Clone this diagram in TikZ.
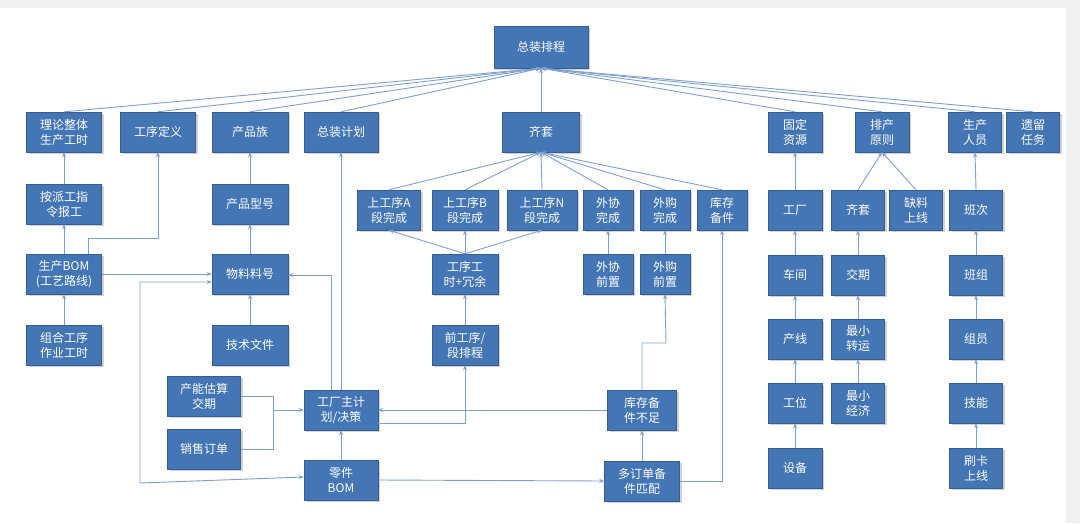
\documentclass[tikz,border=0pt]{standalone}
\usepackage{fontspec}
\setmainfont{Noto Sans CJK SC}
\usetikzlibrary{arrows.meta,shadows}
\definecolor{boxblue}{HTML}{4475B4}
\definecolor{lineblue}{HTML}{7FA0CF}
\tikzset{
  blk/.style={draw=boxblue!80!black,fill=boxblue,text=white,minimum height=40pt,
    inner sep=1pt,align=center,font=\fontsize{12}{15}\selectfont,
    drop shadow={shadow xshift=2pt,shadow yshift=-2pt,opacity=.35}},
  lnk/.style={draw=lineblue,line width=0.9pt,-{Stealth[length=5pt,width=4pt]}}
}
\begin{document}
\begin{tikzpicture}[x=1pt,y=-1pt]
\useasboundingbox (0,0) rectangle (1080,523);
\fill[black!6] (0,0) rectangle (1080,523);
\fill[white] (0,8) rectangle (1066,523);

% top
\node[blk,minimum width=94pt,minimum height=42pt] (zpc) at (541,47) {总装排程};
% row 1
\node[blk,minimum width=75pt] (llzt) at (64,132) {理论整体\\生产工时};
\node[blk,minimum width=75pt] (gxdy) at (158,132) {工序定义};
\node[blk,minimum width=76pt] (cpz) at (250,132) {产品族};
\node[blk,minimum width=74pt] (zzjh) at (341,132) {总装计划};
\node[blk,minimum width=77pt] (qt) at (541,132) {齐套};
\node[blk,minimum width=54pt] (gdzy) at (795,132) {固定\\资源};
\node[blk,minimum width=54pt] (pcyz) at (882,132) {排产\\原则};
\node[blk,minimum width=53pt] (scry) at (975,132) {生产\\人员};
\node[blk,minimum width=53pt] (ylrw) at (1033,132) {遗留\\任务};
% row 2
\node[blk,minimum width=75pt] (apg) at (64,204) {按派工指\\令报工};
\node[blk,minimum width=76pt] (cpxh) at (250,204) {产品型号};
\node[blk,minimum width=63pt] (sgA) at (389,210) {上工序A\\段完成};
\node[blk,minimum width=66pt] (sgB) at (465,210) {上工序B\\段完成};
\node[blk,minimum width=70pt] (sgN) at (542,210) {上工序N\\段完成};
\node[blk,minimum width=50pt] (wxwc) at (608,210) {外协\\完成};
\node[blk,minimum width=50pt] (wgwc) at (665,210) {外购\\完成};
\node[blk,minimum width=50pt] (kcbj) at (722,210) {库存\\备件};
\node[blk,minimum width=54pt] (gc) at (795,210) {工厂};
\node[blk,minimum width=53pt] (qt2) at (858,210) {齐套};
\node[blk,minimum width=53pt] (qlsx) at (916,210) {缺料\\上线};
\node[blk,minimum width=53pt] (bc) at (976,210) {班次};
% row 3
\node[blk,minimum width=75pt] (scbom) at (64,274) {生产BOM\\(工艺路线)};
\node[blk,minimum width=76pt] (wlh) at (250,274) {物料料号};
\node[blk,minimum width=66pt] (gxgs) at (465,274) {工序工\\时+冗余};
\node[blk,minimum width=50pt] (wxqz) at (608,274) {外协\\前置};
\node[blk,minimum width=50pt] (wgqz) at (665,274) {外购\\前置};
\node[blk,minimum width=54pt] (cj) at (795,275) {车间};
\node[blk,minimum width=53pt] (jq) at (858,275) {交期};
\node[blk,minimum width=53pt] (bz) at (976,275) {班组};
% row 4
\node[blk,minimum width=75pt] (zhgx) at (64,345) {组合工序\\作业工时};
\node[blk,minimum width=76pt] (jswj) at (250,345) {技术文件};
\node[blk,minimum width=66pt] (qgx) at (465,345) {前工序/\\段排程};
\node[blk,minimum width=54pt] (cx) at (795,339) {产线};
\node[blk,minimum width=53pt] (zxzy) at (858,339) {最小\\转运};
\node[blk,minimum width=53pt] (zy) at (976,339) {组员};
% lower rows
\node[blk,minimum width=73pt] (cngs) at (204,396) {产能估算\\交期};
\node[blk,minimum width=74pt] (gczjh) at (341,410) {工厂主计\\划/决策};
\node[blk,minimum width=69pt] (kcbz) at (642,410) {库存备\\件不足};
\node[blk,minimum width=54pt] (gw) at (795,403) {工位};
\node[blk,minimum width=53pt] (zxjj) at (858,403) {最小\\经济};
\node[blk,minimum width=53pt] (jn) at (976,403) {技能};
\node[blk,minimum width=73pt] (xsdd) at (204,449) {销售订单};
\node[blk,minimum width=74pt] (ljbom) at (341,480) {零件\\BOM};
\node[blk,minimum width=75pt] (dddd) at (642,481) {多订单备\\件匹配};
\node[blk,minimum width=54pt] (sb) at (795,468) {设备};
\node[blk,minimum width=53pt] (sksx) at (976,468) {刷卡\\上线};

% into 总装排程
\foreach \n in {llzt,gxdy,cpz,zzjh,qt,gdzy,pcyz,scry,ylrw}
  \draw[lnk] (\n.north) -- (zpc.south);
% into 齐套
\foreach \n in {sgA,sgB,sgN,wxwc,wgwc,kcbj}
  \draw[lnk] (\n.north) -- (qt.south);
% straight ups
\foreach \a/\b in {apg/llzt,scbom/apg,zhgx/scbom,cpxh/cpz,wlh/cpxh,jswj/wlh,
  qgx/gxgs,gxgs/sgA,gxgs/sgB,gxgs/sgN,wxqz/wxwc,wgqz/wgwc,ljbom/gczjh,dddd/kcbz,
  gc/gdzy,cj/gc,cx/cj,gw/cx,sb/gw,qt2/pcyz,qlsx/pcyz,jq/qt2,zxzy/jq,zxjj/zxzy,
  bc/scry,bz/bc,zy/bz,jn/zy,sksx/jn}
  \draw[lnk] (\a.north) -- (\b.south);
% elbows
\draw[lnk] ([xshift=24pt]scbom.north) |- (158,238) -- (gxdy.south);
\draw[lnk] (scbom.east) -- (wlh.west);
\draw[draw=lineblue,line width=0.9pt,{Stealth[length=5pt,width=4pt]}-{Stealth[length=5pt,width=4pt]}]
  ([yshift=-8pt]wlh.west) -| (140,483) -- ([yshift=3pt]ljbom.west);
\draw[lnk] ([xshift=-10pt]gczjh.north) |- ([yshift=-1pt]wlh.east);
\draw[lnk] (gczjh.north) -- (zzjh.south);
\draw[draw=lineblue,line width=0.9pt] (cngs.east) -| (273,449) -- (xsdd.east);
\draw[lnk] (273,410) -- (gczjh.west);
\draw[lnk] ([yshift=-13pt]gczjh.east) -| (qgx.south);
\draw[lnk] (kcbz.west) -- (gczjh.east);
\draw[lnk] (kcbz.north) |- (666,343) -- (wgqz.south);
\draw[lnk] (ljbom.east) -- (dddd.west);
\draw[lnk] (dddd.east) -| (kcbj.south);
\end{tikzpicture}
\end{document}
